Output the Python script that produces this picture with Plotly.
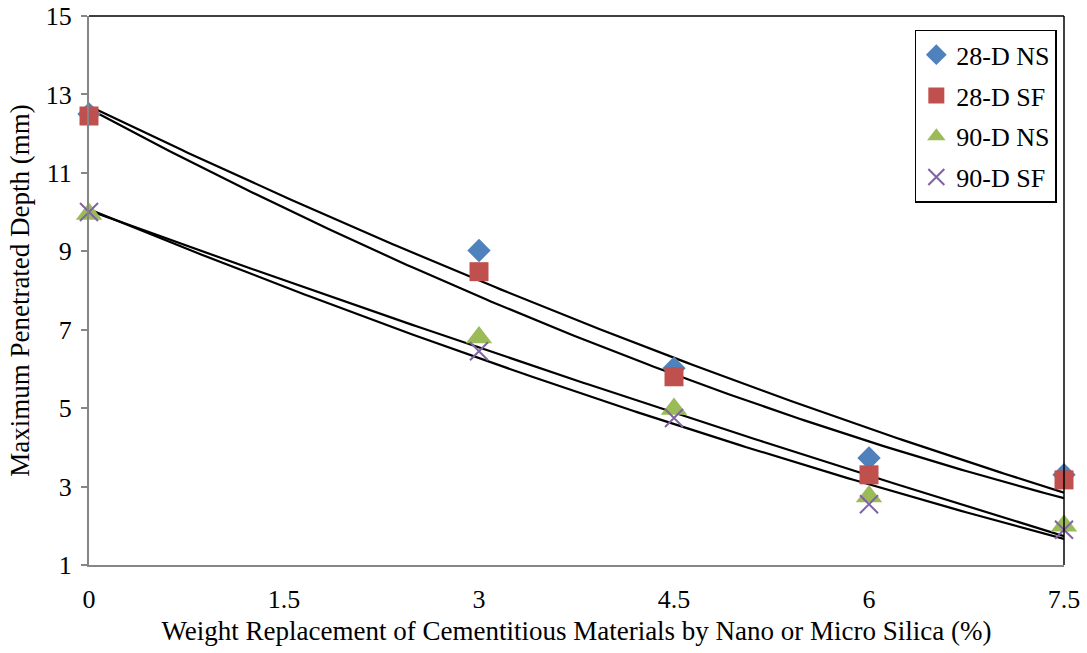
import numpy as np
import plotly.graph_objects as go

x = [0, 3, 4.5, 6, 7.5]
ns28 = [12.5, 9.02, 6.02, 3.73, 3.3]
sf28 = [12.45, 8.48, 5.8, 3.3, 3.17]
ns90 = [9.95, 6.8, 4.98, 2.75, 2.0]
sf90 = [10.0, 6.45, 4.75, 2.55, 1.9]

series = [
    ("28-D NS", ns28, "diamond", "#4F81BD", 18),
    ("28-D SF", sf28, "square", "#C0504D", 19),
    ("90-D NS", ns90, "triangle-up", "#9BBB59", 23),
    ("90-D SF", sf90, "x-thin", "#8064A2", 18),
]

font = "Liberation Serif, Times New Roman, serif"
fig = go.Figure()

xs = np.linspace(0, 7.5, 200)
for name, ys, sym, col, sz in series:
    c = np.polyfit(x, ys, 2)
    fig.add_trace(go.Scatter(x=xs, y=np.polyval(c, xs), mode="lines",
                             line=dict(color="black", width=2.2),
                             showlegend=False, hoverinfo="skip"))

for name, ys, sym, col, sz in series:
    marker = dict(symbol=sym, color=col, size=sz)
    if sym == "x-thin":
        marker["line"] = dict(color=col, width=2)
    fig.add_trace(go.Scatter(x=x, y=ys, mode="markers", name=name, marker=marker,
                             legendgroup=name, cliponaxis=False))

fig.update_layout(
    width=1087, height=653,
    margin=dict(l=89, r=23, t=16, b=88, autoexpand=False),
    paper_bgcolor="white", plot_bgcolor="white",
    font=dict(family=font, size=26, color="black"),
    legend=dict(x=0.847, y=0.975, xanchor="left", yanchor="top",
                bordercolor="black", borderwidth=1.5, bgcolor="white",
                font=dict(size=26), itemsizing="trace", tracegroupgap=4,
                itemwidth=30),
    shapes=[
        dict(type="line", xref="paper", yref="paper", x0=0, x1=1, y0=1, y1=1,
             line=dict(color="black", width=1.5)),
        dict(type="line", xref="paper", yref="paper", x0=1, x1=1, y0=0, y1=1,
             line=dict(color="black", width=1.5)),
    ],
)
fig.update_xaxes(range=[0, 7.5], tickvals=[0, 1.5, 3, 4.5, 6, 7.5],
                 ticktext=["0", "1.5", "3", "4.5", "6", "7.5"],
                 showgrid=False, zeroline=False, showline=True, automargin=False,
                 linecolor="#868686", linewidth=2, ticks="",
                 tickfont=dict(size=26), ticklabelstandoff=10,
                 title=dict(text="Weight Replacement of Cementitious Materials by Nano or Micro Silica (%)",
                            font=dict(size=27), standoff=8))
fig.update_yaxes(range=[1, 15], tickvals=list(range(1, 16, 2)),
                 showgrid=False, zeroline=False, showline=True, automargin=False,
                 linecolor="#868686", linewidth=2, ticks="outside",
                 tickcolor="#868686", ticklen=6, tickwidth=1.5,
                 tickfont=dict(size=26), ticklabelstandoff=4,
                 title=dict(text="Maximum Penetrated Depth (mm)", font=dict(size=27), standoff=8))

fig.write_html("out.html")
